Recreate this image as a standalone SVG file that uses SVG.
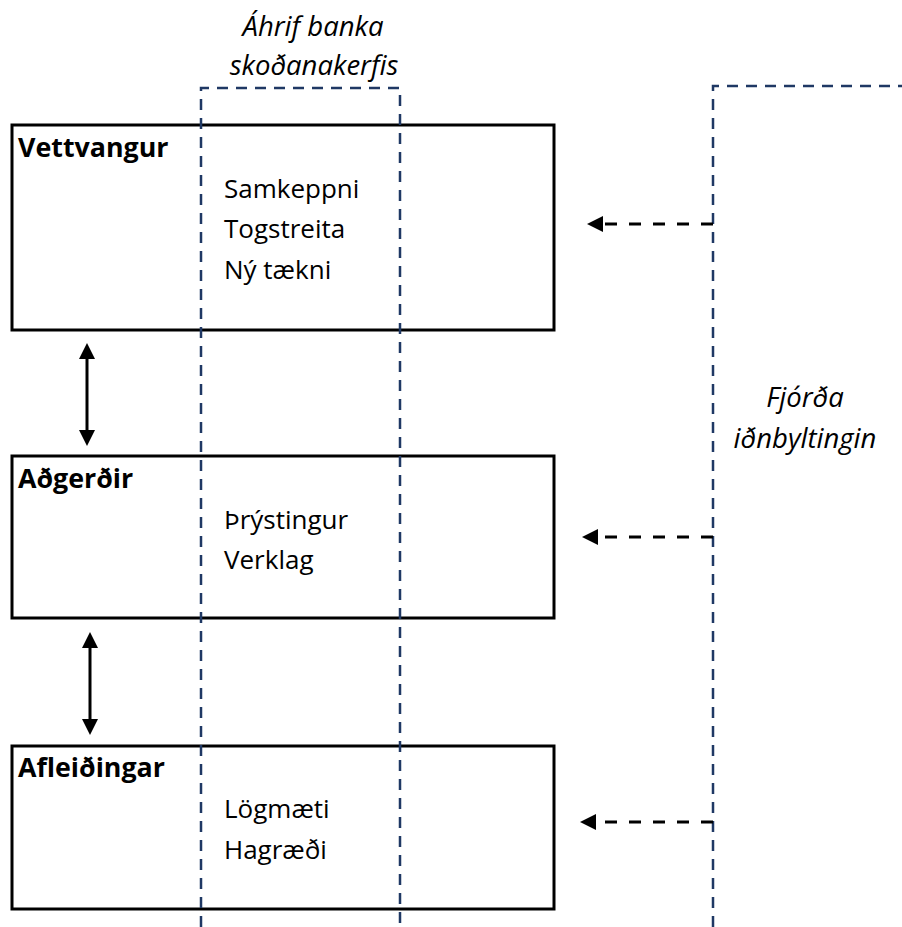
<svg xmlns="http://www.w3.org/2000/svg" width="902" height="927" viewBox="0 0 902 927">
<style>
  .box { fill: none; stroke: #000; stroke-width: 3; }
  .bracket { fill: none; stroke: #1f3864; stroke-width: 2.5; stroke-dasharray: 11 8; }
  .darr { fill: none; stroke: #000; stroke-width: 3; stroke-dasharray: 12 12; marker-end: url(#head); }
  .varr { fill: none; stroke: #000; stroke-width: 3; marker-start: url(#head); marker-end: url(#head); }
  .hdr { font-family: "Open Sans", "Liberation Sans", sans-serif; font-weight: bold; font-size: 26.8px; fill: #000; }
  .item { font-family: "Open Sans", "Liberation Sans", sans-serif; font-size: 26px; fill: #000; }
  .lbl { font-family: "Open Sans", "Liberation Sans", sans-serif; font-style: italic; font-size: 27.5px; fill: #000; text-anchor: middle; }
</style>
<defs>
  <marker id="head" viewBox="0 0 16 16" refX="1" refY="8" markerWidth="16" markerHeight="16" markerUnits="userSpaceOnUse" orient="auto-start-reverse">
    <path d="M0 0 L16 8 L0 16 Z" fill="#000"/>
  </marker>
</defs>
<rect width="902" height="927" fill="#fff"/>

<g id="node-vettvangur">
  <rect class="box" x="12" y="125" width="542" height="205"/>
  <text class="hdr" x="18" y="157">Vettvangur</text>
  <text class="item" x="224" y="198">Samkeppni</text>
  <text class="item" x="224" y="238">Togstreita</text>
  <text class="item" x="224" y="279">Ný tækni</text>
</g>

<g id="node-adgerdir">
  <rect class="box" x="12" y="456" width="542" height="162"/>
  <text class="hdr" x="18" y="488">Aðgerðir</text>
  <text class="item" x="224" y="529">Þrýstingur</text>
  <text class="item" x="224" y="569">Verklag</text>
</g>

<g id="node-afleidingar">
  <rect class="box" x="12" y="746" width="542" height="163"/>
  <text class="hdr" x="18" y="777">Afleiðingar</text>
  <text class="item" x="224" y="818">Lögmæti</text>
  <text class="item" x="224" y="859">Hagræði</text>
</g>

<g id="node-ahrif">
  <path class="bracket" d="M201 927 V88 H400 V927"/>
  <text class="lbl" x="313" y="36">Áhrif banka</text>
  <text class="lbl" x="314" y="75">skoðanakerfis</text>
</g>

<g id="node-fjorda">
  <path class="bracket" d="M713 927 V86 H902"/>
  <text class="lbl" x="805" y="407">Fjórða</text>
  <text class="lbl" x="805" y="448">iðnbyltingin</text>
</g>

<g id="connectors">
  <path class="varr" d="M87 358 V431"/>
  <path class="varr" d="M90 647 V720"/>
  <path class="darr" d="M713 224 H602"/>
  <path class="darr" d="M713 537 H597"/>
  <path class="darr" d="M713 822 H595"/>
</g>
</svg>
